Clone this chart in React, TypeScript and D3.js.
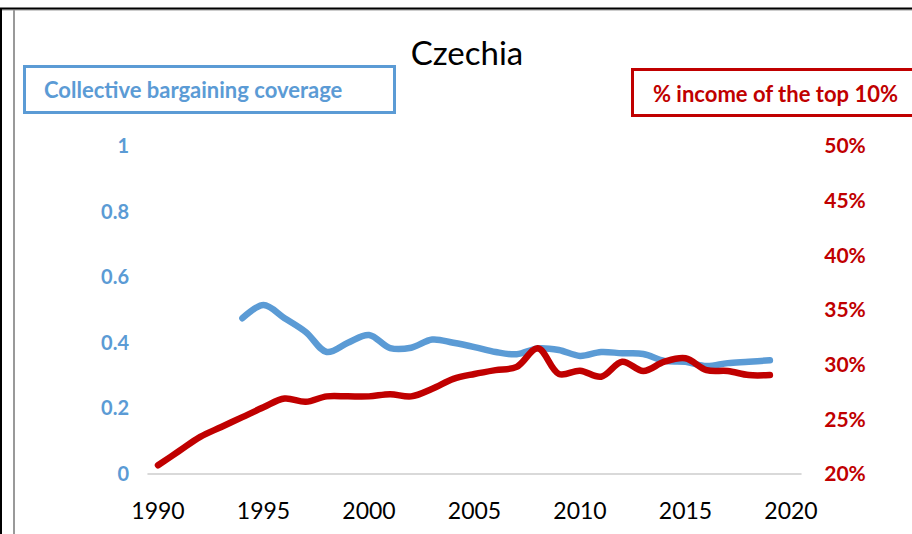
import React from "react";
import * as d3 from "d3";

// years on the category axis
const axisYears = [1990, 1995, 2000, 2005, 2010, 2015, 2020];

// Collective bargaining coverage (left axis, 0..1), 1994-2019
const coverageYears = [1994, 1995, 1996, 1997, 1998, 1999, 2000, 2001, 2002, 2003, 2004, 2005, 2006,
  2007, 2008, 2009, 2010, 2011, 2012, 2013, 2014, 2015, 2016, 2017, 2018, 2019];
const coverage = [0.475, 0.515, 0.475, 0.433, 0.372, 0.40, 0.424, 0.384, 0.385, 0.41, 0.40, 0.387, 0.372,
  0.365, 0.383, 0.378, 0.36, 0.372, 0.368, 0.366, 0.345, 0.342, 0.329, 0.338, 0.342, 0.347];

// % income of the top 10% (right axis), 1990-2019
const topYears = d3.range(1990, 2020);
const topShare = [20.8, 22.1, 23.4, 24.3, 25.2, 26.1, 26.9, 26.6, 27.1, 27.1, 27.1, 27.3, 27.1, 27.8, 28.7,
  29.15, 29.5, 29.8, 31.5, 29.15, 29.45, 28.9, 30.27, 29.42, 30.27, 30.58, 29.5, 29.42, 29.05, 29.05];

const leftTicks = [0, 0.2, 0.4, 0.6, 0.8, 1];
const rightTicks = [20, 25, 30, 35, 40, 45, 50];

const BLUE = "#5B9BD5";
const RED = "#C00000";
const FONT = "Lato, 'Open Sans', sans-serif";

export default function App() {
  const width = 912;
  const height = 534;

  const x = d3.scaleLinear().domain([1990, 2020]).range([158, 791]);
  const yLeft = d3.scaleLinear().domain([0, 1]).range([474, 146]);
  const yRight = d3.scaleLinear().domain([20, 50]).range([474, 146]);

  const blueLine = d3.line<number>()
    .x((_, i) => x(coverageYears[i]))
    .y(d => yLeft(d))
    .curve(d3.curveCatmullRom.alpha(0.5));

  const redLine = d3.line<number>()
    .x((_, i) => x(topYears[i]))
    .y(d => yRight(d))
    .curve(d3.curveCatmullRom.alpha(0.5));

  const halfStep = (x(1991) - x(1990)) / 2;

  return (
    <svg width={width} height={height} style={{ position: "absolute", left: 0, top: 0, background: "#fff" }}>
      {/* frame */}
      <line x1={0} x2={width} y1={10} y2={10} stroke="#999" strokeWidth={1} />
      <line x1={14} x2={14} y1={10} y2={height} stroke="#999" strokeWidth={2} />
      <line x1={0} x2={width} y1={8.5} y2={8.5} stroke="#000" strokeWidth={2} />
      <line x1={1} x2={1} y1={8} y2={height} stroke="#000" strokeWidth={2} />

      {/* title */}
      <text x={467} y={65} textAnchor="middle" fontFamily={FONT} fontSize={33} fill="#000">Czechia</text>

      {/* legend boxes */}
      <rect x={24.5} y={66.5} width={370} height={46} fill="none" stroke={BLUE} strokeWidth={3} />
      <text x={44} y={98} fontFamily={FONT} fontWeight="bold" fontSize={22} fill={BLUE}>Collective bargaining coverage</text>
      <rect x={632.5} y={69.5} width={300} height={46} fill="none" stroke={RED} strokeWidth={3} />
      <text x={653} y={102} fontFamily={FONT} fontWeight="bold" fontSize={22} fill={RED}>% income of the top 10%</text>

      {/* zero line */}
      <line x1={x(1990) - halfStep} x2={x(2020) + halfStep} y1={yLeft(0)} y2={yLeft(0)} stroke="#D9D9D9" strokeWidth={2} />

      {/* left axis labels */}
      {leftTicks.map(t => (
        <text key={t} x={129} y={yLeft(t)} dy="0.35em" textAnchor="end" fontFamily={FONT} fontWeight="bold" fontSize={20} fill={BLUE}>
          {d3.format("~g")(t)}
        </text>
      ))}

      {/* right axis labels */}
      {rightTicks.map(t => (
        <text key={t} x={845} y={yRight(t)} dy="0.35em" textAnchor="middle" fontFamily={FONT} fontWeight="bold" fontSize={21} fill={RED}>
          {t}%
        </text>
      ))}

      {/* x axis labels */}
      {axisYears.map(yr => (
        <text key={yr} x={x(yr)} y={519} textAnchor="middle" fontFamily={FONT} fontSize={23} fill="#000">
          {yr}
        </text>
      ))}

      {/* series */}
      <path d={blueLine(coverage) ?? ""} fill="none" stroke={BLUE} strokeWidth={6.5} strokeLinecap="round" strokeLinejoin="round" />
      <path d={redLine(topShare) ?? ""} fill="none" stroke={RED} strokeWidth={6.5} strokeLinecap="round" strokeLinejoin="round" />
    </svg>
  );
}
